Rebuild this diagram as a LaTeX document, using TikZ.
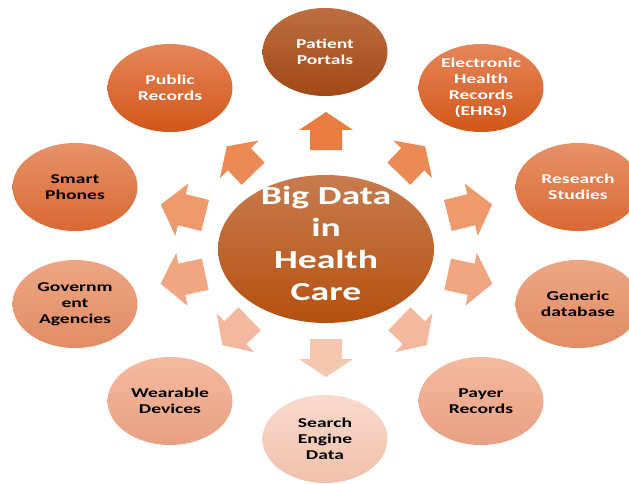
\documentclass[tikz,border=0pt]{standalone}
\usepackage{fontspec}
\setmainfont{Carlito}[FakeStretch=1.45]
\usetikzlibrary{shapes.geometric}
\definecolor{hubT}{RGB}{200,124,78}
\definecolor{hubB}{RGB}{180,80,16}
\definecolor{brnT}{RGB}{188,110,66}
\definecolor{brnB}{RGB}{162,72,22}
\definecolor{orgT}{RGB}{229,134,90}
\definecolor{orgB}{RGB}{210,86,24}
\definecolor{ormT}{RGB}{230,146,104}
\definecolor{ormB}{RGB}{218,104,50}
\definecolor{salT}{RGB}{237,166,132}
\definecolor{salB}{RGB}{226,140,100}
\definecolor{pnkT}{RGB}{244,186,160}
\definecolor{pnkB}{RGB}{232,160,130}
\definecolor{palT}{RGB}{249,218,205}
\definecolor{palB}{RGB}{240,192,172}
\definecolor{arA}{RGB}{233,124,64}
\definecolor{arB}{RGB}{236,138,85}
\definecolor{arC}{RGB}{238,154,108}
\definecolor{arD}{RGB}{240,166,130}
\definecolor{arE}{RGB}{243,184,158}
\definecolor{arF}{RGB}{245,198,176}

\tikzset{
  blob/.style={ellipse,minimum width=125pt,minimum height=88pt,inner sep=-2pt,
    align=center,text=white,font=\bfseries\fontsize{13.5}{16}\selectfont},
  dark/.style={text=black},
  hub/.style={ellipse,minimum width=216pt,minimum height=148pt,inner sep=0pt,
    top color=hubT,bottom color=hubB},
  hubtext/.style={align=center,text=white,inner sep=0pt,
    font=\bfseries\fontsize{26}{32}\selectfont},
  bigarrow/.pic={\path[pic actions] (-19,-16) -- (1,-16) -- (1,-27) -- (19,0)
    -- (1,27) -- (1,16) -- (-19,16) -- cycle;}
}

\begin{document}
\begin{tikzpicture}[x=1pt,y=1pt]
\useasboundingbox (0,0) rectangle (629,483);
\coordinate (C) at (326,234);

\node[hub] (hub) at (C) {};
\node[hubtext] (title) at ([yshift=6pt]hub.center) {Big Data\\in\\Health\\Care};

\node[blob,top color=brnT,bottom color=brnB] (portal) at (325,431) {Patient\\Portals};
\node[blob,top color=orgT,bottom color=orgB] (public) at (170,395) {Public\\Records};
\node[blob,top color=orgT,bottom color=orgB] (ehr) at (481,395) {Electronic\\Health\\Records\\(EHRs)};
\node[blob,dark,top color=ormT,bottom color=ormB] (phone) at (75,296) {Smart\\Phones};
\node[blob,top color=ormT,bottom color=ormB] (study) at (578,296) {Research\\Studies};
\node[blob,dark,top color=salT,bottom color=salB] (gov) at (75,179) {Governm\\ent\\Agencies};
\node[blob,dark,top color=salT,bottom color=salB] (generic) at (578,179) {Generic\\database};
\node[blob,dark,top color=pnkT,bottom color=pnkB] (wear) at (170,82) {Wearable\\Devices};
\node[blob,dark,top color=pnkT,bottom color=pnkB] (payer) at (481,82) {Payer\\Records};
\node[blob,dark,top color=palT,bottom color=palB] (search) at (325,44) {Search\\Engine\\Data};

% arrows out of the hub
\pic[rotate=90,fill=arA] at (326,352) {bigarrow};
\pic[rotate=134,fill=arB] at (240,323) {bigarrow};
\pic[rotate=46,fill=arB] at (412,323) {bigarrow};
\pic[rotate=166,xscale=1.2,fill=arC] at (183,273) {bigarrow};
\pic[rotate=14,xscale=1.2,fill=arC] at (470,273) {bigarrow};
\pic[rotate=192,xscale=1.2,fill=arD] at (183,204) {bigarrow};
\pic[rotate=-12,xscale=1.2,fill=arD] at (470,204) {bigarrow};
\pic[rotate=224,fill=arE] at (236,151) {bigarrow};
\pic[rotate=-44,fill=arE] at (413,151) {bigarrow};
\pic[rotate=-90,fill=arF] at (326,125) {bigarrow};
\end{tikzpicture}
\end{document}
